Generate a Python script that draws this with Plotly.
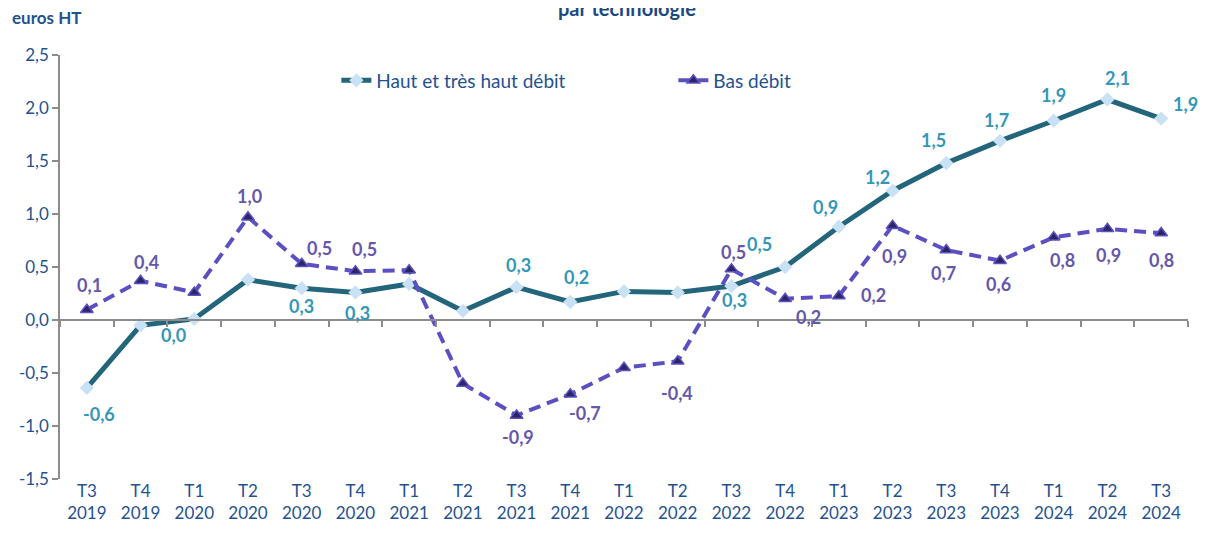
import plotly.graph_objects as go

# ---------------- data ----------------
quarters = ["T3", "T4", "T1", "T2", "T3", "T4", "T1", "T2", "T3", "T4", "T1",
            "T2", "T3", "T4", "T1", "T2", "T3", "T4", "T1", "T2", "T3"]
years = ["2019", "2019", "2020", "2020", "2020", "2020", "2021", "2021", "2021", "2021", "2022",
         "2022", "2022", "2022", "2023", "2023", "2023", "2023", "2024", "2024", "2024"]
categories = [f"{q}<br>{y}" for q, y in zip(quarters, years)]

haut_debit = [-0.64, -0.05, 0.01, 0.38, 0.30, 0.26, 0.34, 0.085, 0.31, 0.17, 0.27,
              0.26, 0.32, 0.50, 0.88, 1.22, 1.48, 1.69, 1.88, 2.08, 1.90]
bas_debit = [0.097, 0.37, 0.26, 0.97, 0.53, 0.46, 0.47, -0.60, -0.90, -0.70, -0.45,
             -0.39, 0.48, 0.20, 0.226, 0.89, 0.66, 0.56, 0.78, 0.86, 0.82]

y_ticks = [-1.5, -1.0, -0.5, 0.0, 0.5, 1.0, 1.5, 2.0, 2.5]

series_names = ["Haut et très haut débit", "Bas débit"]

# which points carry a data label
haut_labelled = [1, 0, 1, 0, 1, 1, 0, 0, 1, 1, 0, 0, 1, 1, 1, 1, 1, 1, 1, 1, 1]
bas_labelled = [1, 1, 0, 1, 1, 1, 0, 0, 1, 1, 0, 1, 1, 1, 1, 1, 1, 1, 1, 1, 1]

# label offsets in pixels (dx right, dy down) -- style only
haut_offsets = {0: (12, 26), 2: (-21, 16), 4: (0, 18), 5: (2, 21), 8: (2, -22),
                9: (6, -25), 12: (3, 14), 13: (-26, -23), 14: (-13, -20),
                15: (-15, -14), 16: (-13, -23), 17: (-4, -21), 18: (0, -26),
                19: (10, -22), 20: (24, -15)}
bas_offsets = {0: (3, -25), 1: (6, -19), 3: (1, -21), 4: (18, -16), 5: (9, -22),
               8: (1, 22), 9: (15, 19), 11: (-1, 32), 12: (2, -17), 13: (23, 18),
               14: (35, -1), 15: (2, 30), 16: (-3, 23), 17: (-2, 23), 18: (9, 23),
               19: (1, 26), 20: (0, 27)}

# ---------------- style ----------------
FONT = "Lato"
AXIS_BLUE = "#1F528F"
HAUT_LINE = "#23657A"
HAUT_MARK = "#C9E1F4"
HAUT_LABEL = "#3497B8"
BAS_LINE = "#5B50C2"
BAS_MARK = "#2B2766"
BAS_LABEL = "#6657AA"
GRAY = "#8C8C8C"


def fmt(v):
    return f"{v:.1f}".replace(".", ",")


fig = go.Figure()

fig.add_trace(go.Scatter(
    x=categories, y=haut_debit, name=series_names[0], mode="lines+markers",
    line=dict(color=HAUT_LINE, width=5),
    marker=dict(symbol="diamond", size=11, color=HAUT_MARK,
                line=dict(color=HAUT_MARK, width=0)),
    xaxis="x", yaxis="y",
))
fig.add_trace(go.Scatter(
    x=categories, y=bas_debit, name=series_names[1], mode="lines+markers",
    line=dict(color=BAS_LINE, width=4, dash="12px,7px"),
    marker=dict(symbol="triangle-up", size=11, color=BAS_MARK,
                line=dict(color=BAS_LINE, width=1.5)),
    xaxis="x2", yaxis="y",
))

annotations = []
for vals, flags, offs, col in [(haut_debit, haut_labelled, haut_offsets, HAUT_LABEL),
                               (bas_debit, bas_labelled, bas_offsets, BAS_LABEL)]:
    for i, (c, v, f) in enumerate(zip(categories, vals, flags)):
        if not f:
            continue
        dx, dy = offs.get(i, (0, -20))
        annotations.append(dict(
            x=c, y=v, xref="x", yref="y", text=fmt(v), showarrow=False,
            xshift=dx, yshift=-dy,
            font=dict(family=FONT, size=18, color=col, weight="bold"),
        ))

# title (partly cut at the top) and unit
annotations.append(dict(
    x=0.503, y=1.112, xref="paper", yref="paper", text="<b>par technologie</b>",
    showarrow=False, xanchor="center", yanchor="middle",
    font=dict(family=FONT, size=20, color="#1B4A80"),
))
annotations.append(dict(
    x=-0.0443, y=1.0896, xref="paper", yref="paper", text="<b>euros HT</b>",
    showarrow=False, xanchor="left", yanchor="middle",
    font=dict(family=FONT, size=17, color=AXIS_BLUE),
))

fig.update_layout(
    width=1199, height=537,
    margin=dict(l=52, r=19, t=47, b=66, autoexpand=False),
    paper_bgcolor="white", plot_bgcolor="white",
    separators=", ",
    font=dict(family=FONT, size=17, color=AXIS_BLUE),
    showlegend=True,
    legend=dict(orientation="h", x=0.245, y=0.94, xanchor="left", yanchor="middle",
                font=dict(family=FONT, size=19, color=AXIS_BLUE),
                bgcolor="rgba(0,0,0,0)", entrywidth=292, entrywidthmode="pixels",
                tracegroupgap=0),
    xaxis=dict(type="category", categoryorder="array", categoryarray=categories,
               range=[-0.5, len(categories) - 0.5], automargin=False,
               showline=False, ticks="", showgrid=False, zeroline=False,
               tickfont=dict(family=FONT, size=17, color=AXIS_BLUE)),
    xaxis2=dict(type="category", categoryorder="array", categoryarray=categories,
                range=[-0.5, len(categories) - 0.5], automargin=False,
                overlaying="x", anchor="free", position=0.375,
                showline=True, linecolor=GRAY, linewidth=1.5,
                ticks="outside", tickson="boundaries", ticklen=6, tickcolor=GRAY,
                tickwidth=1.5, showticklabels=False, showgrid=False, zeroline=False),
    yaxis=dict(range=[-1.5, 2.5], tickmode="array", tickvals=y_ticks,
               ticktext=[fmt(t) for t in y_ticks],
               automargin=False,
               showline=True, linecolor=GRAY, linewidth=1.5,
               ticks="outside", ticklen=6, tickcolor=GRAY, tickwidth=1.5,
               showgrid=False, zeroline=False,
               tickfont=dict(family=FONT, size=17, color=AXIS_BLUE)),
    annotations=annotations,
)

fig.write_html("out.html")
